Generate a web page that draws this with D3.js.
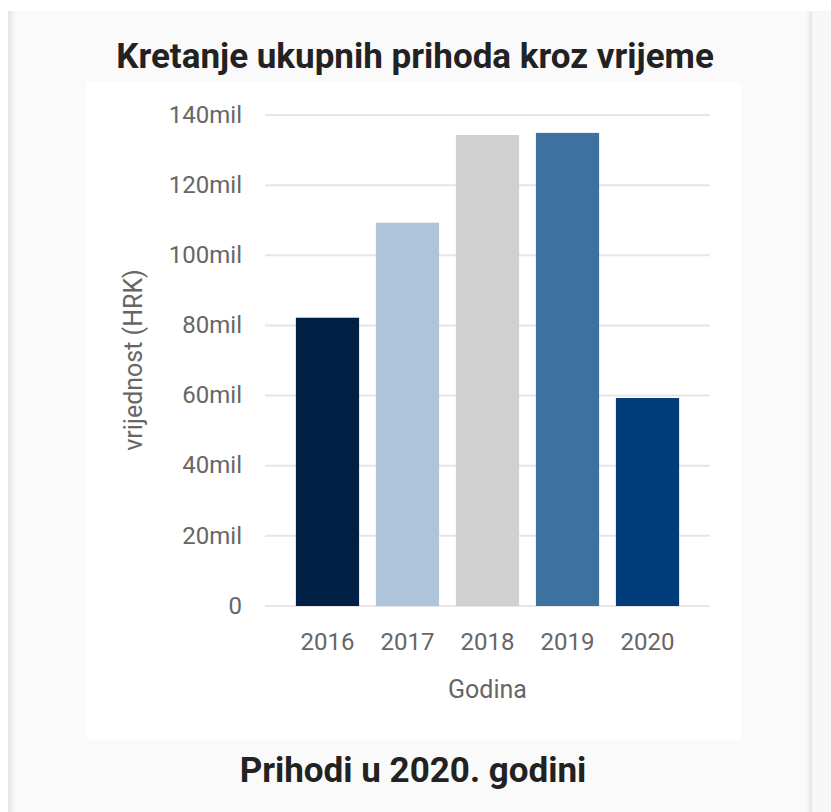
<!DOCTYPE html>
<html>
<head>
<meta charset="utf-8">
<script src="https://cdn.jsdelivr.net/npm/d3@7"></script>
<style>
  html, body { margin: 0; padding: 0; background: #ffffff; }
  svg { display: block; font-family: Roboto, "Noto Sans", sans-serif; }
</style>
</head>
<body>
<svg id="chart" width="831" height="812"></svg>
<script>
// ---- data ----
const years = ["2016", "2017", "2018", "2019", "2020"];
const revenues = [82.2e6, 109.3e6, 134.3e6, 134.9e6, 59.3e6];
const barColors = ["#001f45", "#adc4db", "#d0d0d0", "#3d72a0", "#003d7a"];
const yTicks = [0, 20e6, 40e6, 60e6, 80e6, 100e6, 120e6, 140e6];
const chartTitle = "Kretanje ukupnih prihoda kroz vrijeme";
const sectionTitle = "Prihodi u 2020. godini";
const yAxisTitle = "vrijednost (HRK)";
const xAxisTitle = "Godina";

const svg = d3.select("#chart");

// card with side shadows
const defs = svg.append("defs");
const gl = defs.append("linearGradient").attr("id", "shL");
gl.append("stop").attr("offset", "0%").attr("stop-color", "#e6e6e6");
gl.append("stop").attr("offset", "100%").attr("stop-color", "#fafafa");
const gr = defs.append("linearGradient").attr("id", "shR");
gr.append("stop").attr("offset", "0%").attr("stop-color", "#fafafa");
gr.append("stop").attr("offset", "100%").attr("stop-color", "#e4e4e4");

svg.append("rect").attr("x", 812).attr("y", 11).attr("width", 19).attr("height", 801).attr("fill", "#f7f7f7");
svg.append("rect").attr("x", 8).attr("y", 11).attr("width", 804).attr("height", 801).attr("fill", "#fafafa");
svg.append("rect").attr("x", 8).attr("y", 11).attr("width", 8).attr("height", 801).attr("fill", "url(#shL)");
svg.append("rect").attr("x", 806).attr("y", 11).attr("width", 6).attr("height", 801).attr("fill", "url(#shR)");

// white chart panel
svg.append("rect").attr("x", 86).attr("y", 82).attr("width", 655).attr("height", 658)
  .attr("rx", 4).attr("fill", "#ffffff");

// titles
svg.append("text").attr("x", 415).attr("y", 68).attr("text-anchor", "middle")
  .attr("font-size", 35).attr("font-weight", "bold").attr("fill", "#222222").text(chartTitle);
svg.append("text").attr("x", 413).attr("y", 782).attr("text-anchor", "middle")
  .attr("font-size", 35).attr("font-weight", "bold").attr("fill", "#222222").text(sectionTitle);

// scales
const x = d3.scaleBand().domain(years).range([265, 710]).paddingInner(0.21).paddingOuter(0.386);
const y = d3.scaleLinear().domain([0, 140e6]).range([606, 115]);

// grid
svg.append("g").selectAll("line").data(yTicks).join("line")
  .attr("x1", 265).attr("x2", 710)
  .attr("y1", d => y(d)).attr("y2", d => y(d))
  .attr("stroke", "#e6e6e6").attr("stroke-width", 2);

// y axis labels
const yAxis = d3.axisLeft(y).tickValues(yTicks).tickSize(0).tickPadding(0)
  .tickFormat(d => d === 0 ? "0" : (d / 1e6) + "mil");
const yg = svg.append("g").attr("transform", "translate(242,0)").call(yAxis);
yg.select(".domain").remove();
yg.selectAll("text").attr("font-size", 24).attr("fill", "#666666")
  .attr("font-family", "Roboto, sans-serif").attr("dy", "0.3em");

// bars
svg.append("g").selectAll("rect").data(years).join("rect")
  .attr("x", d => x(d)).attr("width", x.bandwidth())
  .attr("y", (d, i) => y(revenues[i]))
  .attr("height", (d, i) => y(0) - y(revenues[i]))
  .attr("fill", (d, i) => barColors[i]);

// x axis labels
const xAxis = d3.axisBottom(x).tickSize(0).tickPadding(0);
const xg = svg.append("g").attr("transform", "translate(0,650)").call(xAxis);
xg.select(".domain").remove();
xg.selectAll("text").attr("font-size", 24).attr("fill", "#666666")
  .attr("font-family", "Roboto, sans-serif").attr("y", 0).attr("dy", 0);

// axis titles
svg.append("text").attr("x", 487.5).attr("y", 698).attr("text-anchor", "middle")
  .attr("font-size", 25).attr("fill", "#666666").text(xAxisTitle);
svg.append("text").attr("transform", "translate(142,360) rotate(-90)").attr("text-anchor", "middle")
  .attr("font-size", 25).attr("fill", "#666666").text(yAxisTitle);
</script>
</body>
</html>
